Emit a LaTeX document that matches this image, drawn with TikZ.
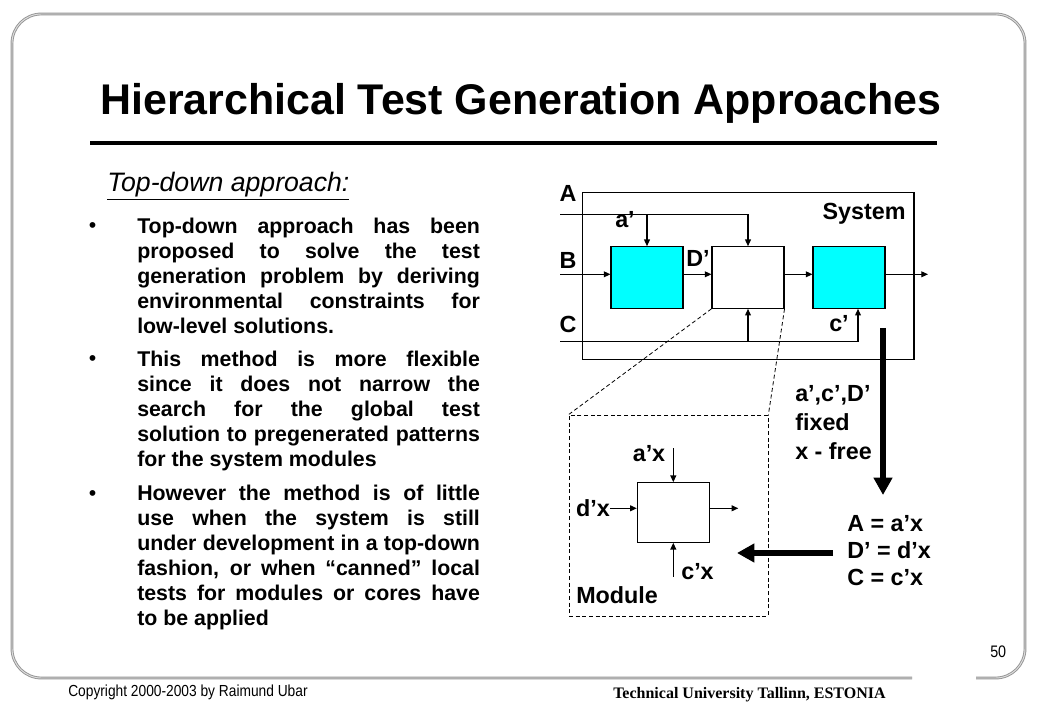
\documentclass[tikz,border=0pt]{standalone}
\usepackage{fontspec}
\setmainfont{Liberation Sans}
\newfontfamily\footserif{Liberation Serif}
\usepackage{graphicx}
\usepackage{tikz}
\usetikzlibrary{positioning,arrows.meta,calc}
\definecolor{FrameGray}{RGB}{150,150,150}
\definecolor{FrameLight}{RGB}{222,222,222}
\definecolor{ModuleCyan}{RGB}{0,255,255}

\begin{document}
\begin{tikzpicture}[
    x=0.75pt, y=-0.75pt,
    sig/.style={-{Triangle[length=5pt,width=4.4pt]}, line width=0.8pt},
    bigarrow/.style={-{Triangle[length=13pt,width=13.5pt]}, line width=4.2pt},
    zoomline/.style={dash pattern=on 3pt off 2pt, line width=0.6pt},
    block/.style={
        draw,
        line width=0.8pt,
        inner sep=0pt,
        minimum width=54pt,
        minimum height=46.2pt
    },
    cyanblock/.style={block, fill=ModuleCyan},
    lbl/.style={font=\fontsize{17.5}{22}\selectfont\bfseries, inner sep=0pt},
    bodytext/.style={
        font=\fontsize{16}{18.75}\selectfont\bfseries,
        text width=257pt,
        align=justify,
        inner sep=0pt,
        anchor=north west
    },
    bulletmark/.style={font=\fontsize{16}{18.75}\selectfont, inner sep=0pt, anchor=base}
]
\useasboundingbox (0,0) rectangle (1040,720);
\fill[white] (0,0) rectangle (1040,720);

% Slide frame, open at the bottom right where the page number sits.
\draw[draw=FrameGray, line width=0.7pt, double=FrameLight, double distance=0.7pt, rounded corners=22pt]
    (912,678) -- (12,678) -- (12,14) -- (1025,14) -- (1025,678) -- (976,678);

% Title and rule.
\node[anchor=base west, inner sep=0pt, font=\fontsize{32.2}{36}\selectfont\bfseries] (title) at (100,115) {Hierarchical Test Generation Approaches};
\draw[line width=3pt] (90,143) -- (937,143);

% Left column: heading and bullet text.
\node[anchor=base west, inner sep=0pt, font=\fontsize{20}{24}\selectfont\itshape] (topdown) at (107,192) {\underline{Top-down approach:}};

\node[bodytext] (item1) at (137,217.6) {Top-down approach has been\linebreak proposed to solve the test\linebreak generation problem by deriving\linebreak environmental constraints for\linebreak low-level solutions.};
\node[bodytext] (item2) at (137,350.6) {This method is more flexible\linebreak since it does not narrow the\linebreak search for the global test\linebreak solution to pregenerated patterns\linebreak for the system modules};
\node[bodytext] (item3) at (137,484.6) {However the method is of little\linebreak use when the system is still\linebreak under development in a top-down\linebreak fashion, or when “canned” local\linebreak tests for modules or cores have\linebreak to be applied};

\node[bulletmark] (dot1) at (92.5,233) {•};
\node[bulletmark] (dot2) at (92.5,366) {•};
\node[bulletmark] (dot3) at (92.5,500) {•};

% System level: three modules inside the system box.
\node[block, minimum width=248.5pt, minimum height=125.5pt] (sysbox) at (748.3,276.3) {};
\node[cyanblock] (lbox) at (647,277.5) {};
\node[block] (mbox) at (748,277.5) {};
\node[cyanblock] (rbox) at (849,277.5) {};

\coordinate (inA) at (560,214.3);
\coordinate (inB) at (560,274.3);
\coordinate (inC) at (560,341.7);
\coordinate (outS) at (928,274.3);

\node[lbl, anchor=base] (labA) at (568,202) {A};
\node[lbl, anchor=base] (labB) at (568,268.3) {B};
\node[lbl, anchor=base] (labC) at (568,332.7) {C};
\node[lbl, anchor=base] (labSys) at (864,219.3) {System};
\node[lbl, anchor=base] (laba) at (625,228) {a’};
\node[lbl, anchor=base] (labD) at (698,267) {D’};
\node[lbl, anchor=base] (labc) at (839,331.7) {c’};

\draw[sig] (inA) -| (mbox.north);
\draw[sig] (inA -| lbox.north) -- (lbox.north);
\draw[sig] (inB) -- (inB -| lbox.west);
\draw[sig] (inB -| lbox.east) -- (inB -| mbox.west);
\draw[sig] (inB -| mbox.east) -- (inB -| rbox.west);
\draw[sig] (inB -| rbox.east) -- (outS);
\draw[sig] (inC) -| ($(rbox.south)+(9,0)$);
\draw[sig] (inC -| mbox.south) -- (mbox.south);

% Module level: the white module taken out of the system.
\node[draw, zoomline, inner sep=0pt, minimum width=149.25pt, minimum height=150.75pt] (module) at (668.5,515.5) {};
\node[block, minimum height=44.7pt] (core) at (673.3,512.5) {};

\draw[zoomline] (mbox.south west) -- (module.north west);
\draw[zoomline] (mbox.south east) -- (module.north east);

\coordinate (axtail) at (673.3,448.3);
\coordinate (cxtail) at (673.3,576.7);
\coordinate (dxtail) at (610,508.3);
\coordinate (coreout) at (738.3,508.3);

\node[lbl, anchor=base] (labax) at (649,461.7) {a’x};
\node[lbl, anchor=base east] (labdx) at (610,516.7) {d’x};
\node[lbl, anchor=base] (labcx) at (697.5,580) {c’x};
\node[lbl, anchor=base west] (labmod) at (576,603.3) {Module};

\draw[sig] (axtail) -- (core.north);
\draw[sig] (cxtail) -- (core.south);
\draw[sig] (dxtail) -- (dxtail -| core.west);
\draw[sig] (dxtail -| core.east) -- (coreout);

% Constraint passing between the two levels.
\coordinate (fixtop) at (883,328);
\coordinate (fixtip) at (883,495);
\coordinate (eqtail) at (833,553);
\coordinate (eqtip) at (737,553);
\draw[bigarrow] (fixtop) -- (fixtip);
\draw[bigarrow] (eqtail) -- (eqtip);

\node[lbl, anchor=north west, align=left] (cond) at (795,385) {a’,c’,D’\\fixed\\x - free};
\node[lbl, anchor=north west, align=left, font=\fontsize{17.5}{20.6}\selectfont\bfseries] (eqs) at (847,514.7) {A = a’x\\D’ = d’x\\C = c’x};

% Footer.
\node[anchor=base west, inner sep=0pt, font=\fontsize{12}{14}\selectfont] (copy) at (68,696.7) {\scalebox{0.86}[1]{Copyright 2000-2003 by Raimund Ubar}};
\node[anchor=base west, inner sep=0pt, font=\fontsize{12}{14}\selectfont\footserif\bfseries] (univ) at (613,698) {Technical University Tallinn, ESTONIA};
\node[anchor=base west, inner sep=0pt, font=\fontsize{12.5}{14}\selectfont] (pageno) at (990,657.3) {\scalebox{0.86}[1]{50}};

\end{tikzpicture}
\end{document}
